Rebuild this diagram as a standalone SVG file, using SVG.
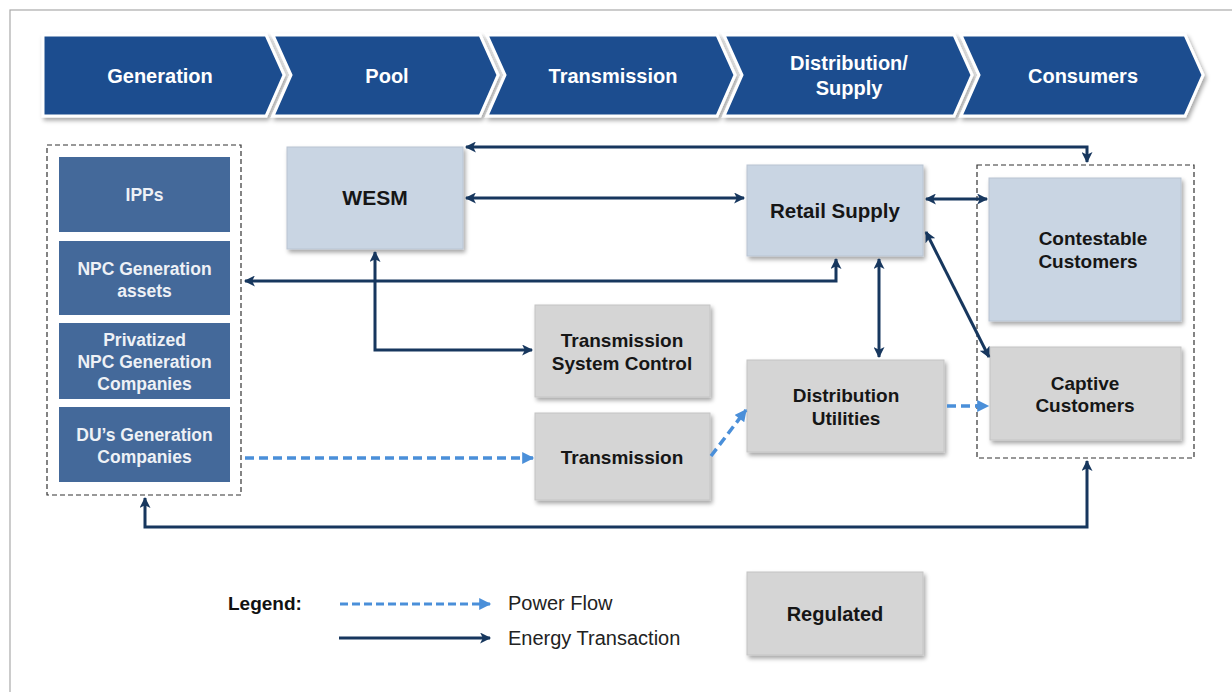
<svg xmlns="http://www.w3.org/2000/svg" width="1232" height="692" viewBox="0 0 1232 692">
<style>
.chev{fill:#1d4e8f;stroke:#ffffff;stroke-width:3}
.ct{font-family:"Liberation Sans",Arial,sans-serif;font-weight:bold;font-size:20px;fill:#ffffff;text-anchor:middle}
.gen{fill:#44699a}
.gt{font-family:"Liberation Sans",Arial,sans-serif;font-weight:bold;font-size:17.5px;fill:#eef1f6;text-anchor:middle}
.lb{fill:#c9d5e3;stroke:#b9c4d2;stroke-width:1}
.gr{fill:#d5d5d5;stroke:#c4c4c4;stroke-width:1}
.nt{font-family:"Liberation Sans",Arial,sans-serif;font-weight:bold;font-size:19px;fill:#161616;text-anchor:middle}
.dash{fill:none;stroke:#333333;stroke-width:1.2;stroke-dasharray:5,3}
.et{fill:none;stroke:#17375e;stroke-width:3}
.pf{fill:none;stroke:#4a8fd9;stroke-width:3.5;stroke-dasharray:9,5}
.lg{font-family:"Liberation Sans",Arial,sans-serif;font-size:20px;fill:#222222}
</style>
<defs>
<marker id="ae" viewBox="0 0 10 10" refX="9" refY="5" markerWidth="13" markerHeight="11" markerUnits="userSpaceOnUse" orient="auto-start-reverse">
<path d="M0,0 L10,5 L0,10 L2.5,5 Z" fill="#17375e"/>
</marker>
<marker id="ap" viewBox="0 0 10 10" refX="9" refY="5" markerWidth="13" markerHeight="12" markerUnits="userSpaceOnUse" orient="auto">
<path d="M0,0 L10,5 L0,10 Z" fill="#4a8fd9"/>
</marker>
<filter id="sh" x="-10%" y="-10%" width="125%" height="130%">
<feDropShadow dx="2" dy="3" stdDeviation="2" flood-color="#000000" flood-opacity="0.35"/>
</filter>
</defs>
<rect x="10" y="10" width="1240" height="700" fill="#ffffff" stroke="#aaaaaa" stroke-width="1.2"/>

<g id="header" filter="url(#sh)">
<path class="chev" d="M43,35 H266 L284,75 L266,116 H43 Z"/>
<path class="chev" d="M273,35 H480 L498,75 L480,116 H273 L291,75 Z"/>
<path class="chev" d="M487,35 H717 L735,75 L717,116 H487 L505,75 Z"/>
<path class="chev" d="M724,35 H954 L972,75 L954,116 H724 L742,75 Z"/>
<path class="chev" d="M961,35 H1185 L1203,75 L1185,116 H961 L979,75 Z"/>
</g>
<g id="header-text">
<text class="ct" x="160" y="83">Generation</text>
<text class="ct" x="387" y="83">Pool</text>
<text class="ct" x="613" y="83">Transmission</text>
<text class="ct" x="849" y="70">Distribution/</text>
<text class="ct" x="849" y="95">Supply</text>
<text class="ct" x="1083" y="83">Consumers</text>
</g>

<g id="generation-group">
<rect class="dash" x="47" y="145" width="194" height="350"/>
</g>
<g id="ipps">
<rect class="gen" x="59" y="157" width="171" height="75"/>
<text class="gt" x="144.5" y="201">IPPs</text>
</g>
<g id="npc-assets">
<rect class="gen" x="59" y="241" width="171" height="74"/>
<text class="gt" x="144.5" y="275">NPC Generation</text>
<text class="gt" x="144.5" y="297">assets</text>
</g>
<g id="privatized">
<rect class="gen" x="59" y="323" width="171" height="76"/>
<text class="gt" x="144.5" y="346">Privatized</text>
<text class="gt" x="144.5" y="368">NPC Generation</text>
<text class="gt" x="144.5" y="390">Companies</text>
</g>
<g id="du-gen">
<rect class="gen" x="59" y="407" width="171" height="75"/>
<text class="gt" x="144.5" y="441">DU’s Generation</text>
<text class="gt" x="144.5" y="463">Companies</text>
</g>

<g id="wesm">
<rect class="lb" x="287" y="147" width="176" height="102" filter="url(#sh)"/>
<text class="nt" x="375" y="205" style="font-size:21px">WESM</text>
</g>
<g id="retail-supply">
<rect class="lb" x="747" y="165" width="176" height="91" filter="url(#sh)"/>
<text class="nt" x="835" y="218" style="font-size:20.5px">Retail  Supply</text>
</g>
<g id="consumers-group">
<rect class="dash" x="977" y="165" width="217" height="293"/>
</g>
<g id="contestable">
<rect class="lb" x="989" y="178" width="192" height="143" filter="url(#sh)"/>
<text class="nt" x="1093" y="245">Contestable</text>
<text class="nt" x="1088" y="268">Customers</text>
</g>
<g id="captive">
<rect class="gr" x="990" y="347" width="191" height="93" filter="url(#sh)"/>
<text class="nt" x="1085" y="390">Captive</text>
<text class="nt" x="1085" y="412">Customers</text>
</g>
<g id="tsc">
<rect class="gr" x="535" y="305" width="175" height="92" filter="url(#sh)"/>
<text class="nt" x="622" y="347">Transmission</text>
<text class="nt" x="622" y="370">System Control</text>
</g>
<g id="distribution-utilities">
<rect class="gr" x="747" y="360" width="197" height="92" filter="url(#sh)"/>
<text class="nt" x="846" y="402">Distribution</text>
<text class="nt" x="846" y="425">Utilities</text>
</g>
<g id="transmission">
<rect class="gr" x="535" y="413" width="175" height="87" filter="url(#sh)"/>
<text class="nt" x="622" y="464">Transmission</text>
</g>

<g id="connectors">
<path class="et" d="M466,147 H1087 V162" marker-start="url(#ae)" marker-end="url(#ae)"/>
<path class="et" d="M466,198 H744" marker-start="url(#ae)" marker-end="url(#ae)"/>
<path class="et" d="M926,199 H987" marker-start="url(#ae)" marker-end="url(#ae)"/>
<path class="et" d="M836,259 V281 H245" marker-start="url(#ae)" marker-end="url(#ae)"/>
<path class="et" d="M375,252 V350 H532" marker-start="url(#ae)" marker-end="url(#ae)"/>
<path class="et" d="M879,259 V357" marker-start="url(#ae)" marker-end="url(#ae)"/>
<path class="et" d="M926,232 L989,357" marker-start="url(#ae)" marker-end="url(#ae)"/>
<path class="et" d="M145,498 V527 H1087 V461" marker-start="url(#ae)" marker-end="url(#ae)"/>
<path class="pf" d="M245,458 H533" marker-end="url(#ap)"/>
<path class="pf" d="M711,456 L746,410" marker-end="url(#ap)"/>
<path class="pf" d="M947,406 H988" marker-end="url(#ap)"/>
</g>

<g id="legend">
<text x="228" y="610" style="font-family:'Liberation Sans',Arial,sans-serif;font-weight:bold;font-size:19px;fill:#111111">Legend:</text>
<path class="pf" d="M340,604 H490" marker-end="url(#ap)" style="stroke-width:3;stroke-dasharray:8,4"/>
<text class="lg" x="508" y="610">Power Flow</text>
<path class="et" d="M339,638 H490" marker-end="url(#ae)"/>
<text class="lg" x="508" y="645">Energy Transaction</text>
</g>
<g id="regulated">
<rect class="gr" x="747" y="572" width="176" height="83" filter="url(#sh)"/>
<text class="nt" x="835" y="621" style="font-size:20px">Regulated</text>
</g>
</svg>
